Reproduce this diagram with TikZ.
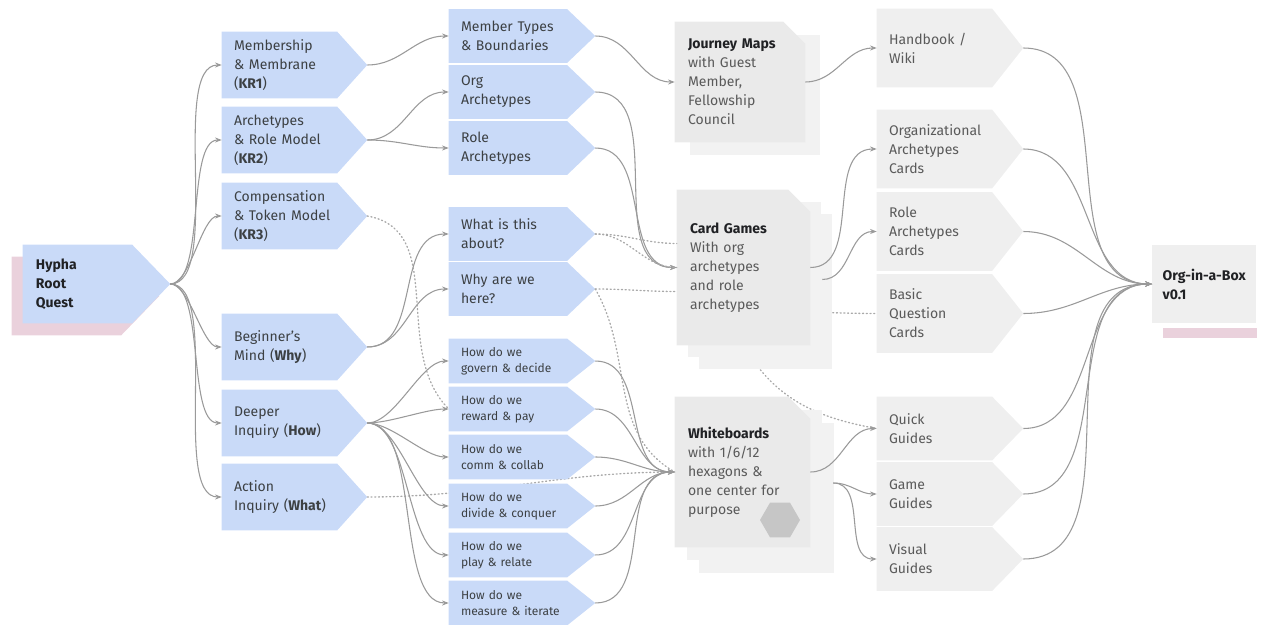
\documentclass[tikz,border=0pt]{standalone}
\usepackage{fontspec}
\setmainfont{Fira Sans}
\usepackage{tikz}
\usetikzlibrary{arrows.meta,positioning,shapes.geometric,calc,backgrounds}

\definecolor{hqBlue}{HTML}{C9DAF8}
\definecolor{hqGray}{HTML}{EFEFEF}
\definecolor{hqSheet}{HTML}{EAEAEA}
\definecolor{hqSheetB}{HTML}{F2F2F2}
\definecolor{hqPink}{HTML}{EAD1DC}
\definecolor{hqHex}{HTML}{C6C6C6}
\definecolor{hqLine}{HTML}{9A9A9A}
\definecolor{hqText}{HTML}{3C4043}
\definecolor{hqMute}{HTML}{5A5A5A}
\definecolor{hqDark}{HTML}{202124}

\tikzset{
    % chevron text boxes (the chevron itself is filled behind them)
    rootchev/.style={rectangle, inner xsep=9.75pt, inner ysep=0pt, minimum width=110.25pt, minimum height=58.5pt, text width=90.75pt, align=left, text=hqDark},
    keychev/.style={rectangle, inner xsep=9pt, inner ysep=0pt, minimum width=108.75pt, minimum height=49.5pt, text width=90.75pt, align=left, text=hqText},
    topicchev/.style={rectangle, inner xsep=9pt, inner ysep=0pt, minimum width=109.5pt, minimum height=39.75pt, text width=91.5pt, align=left, text=hqText},
    askchev/.style={topicchev, minimum height=33pt, font=\fontsize{9}{12}\selectfont},
    outchev/.style={rectangle, inner xsep=9pt, inner ysep=0pt, minimum width=109.5pt, minimum height=58.5pt, text width=91.5pt, align=left, text=hqMute},
    guidechev/.style={outchev, minimum height=47.25pt},
    % document stacks
    docbox/.style={rectangle, inner xsep=9.75pt, inner ysep=0pt, align=left, text=hqMute},
    outbox/.style={rectangle, fill=hqGray, inner xsep=7.5pt, minimum width=78pt, minimum height=58.5pt, align=left, text=hqDark},
    hexmark/.style={regular polygon, regular polygon sides=6, minimum size=30pt, inner sep=0pt, fill=hqHex},
    % connectors
    link/.style={-{Stealth[length=5pt,width=3.8pt]}, line width=0.8pt, draw=hqLine},
    dotlink/.style={line width=1pt, draw=hqLine!85, dash pattern=on 0.8pt off 2pt, line cap=round}
}

\newcommand{\chevfill}[3]{% node, pointer depth, colour
    \fill[#3] (#1.north west) -- ($(#1.north east)+(-#2,0)$) -- (#1.east)
        -- ($(#1.south east)+(-#2,0)$) -- (#1.south west) -- cycle;}
\newcommand{\docstack}[4]{% node, sheets behind, dx, dy
    \foreach \k in {#2,...,1}{
        \fill[hqSheetB] ($(#1.north west)+(\k*#3,\k*#4)$) rectangle ($(#1.south east)+(\k*#3,\k*#4)$);}
    \fill[hqSheet] (#1.north west) -- ($(#1.north east)+(-22,0)$) -- ($(#1.north east)+(0,22)$)
        -- (#1.south east) -- (#1.south west) -- cycle;}

\begin{document}
\begin{tikzpicture}[x=0.75pt, y=-0.75pt, font=\fontsize{10.5}{14.25}\selectfont]
    \useasboundingbox (0,0) rectangle (1262,624);

    % Root quest
    \node[rootchev] (root) at (96.5,284) {\textbf{Hypha}\\\textbf{Root}\\\textbf{Quest}};

    % Key results and inquiries
    \node[keychev] (kr1) at (294.5,65) {Membership\\\& Membrane\\(\textbf{KR1})};
    \node[keychev] (kr2) at (294.5,140) {Archetypes\\\& Role Model\\(\textbf{KR2})};
    \node[keychev] (kr3) at (294.5,216) {Compensation\\\& Token Model\\(\textbf{KR3})};
    \node[keychev] (why) at (294.5,347) {Beginner's\\Mind (\textbf{Why})};
    \node[keychev] (how) at (294.5,423) {Deeper\\Inquiry (\textbf{How})};
    \node[keychev] (what) at (294.5,497) {Action\\Inquiry (\textbf{What})};

    % Topics
    \node[topicchev] (types) at (522,36) {Member Types\\\& Boundaries};
    \node[topicchev] (orgarch) at (522,92) {Org\\Archetypes};
    \node[topicchev] (rolearch) at (522,148) {Role\\Archetypes};
    \node[topicchev] (about) at (522,234) {What is this\\about?};
    \node[topicchev] (here) at (522,289) {Why are we\\here?};
    \node[askchev] (govern) at (522,361) {How do we\\govern \& decide};
    \node[askchev] (reward) at (522,409) {How do we\\reward \& pay};
    \node[askchev] (comm) at (522,457) {How do we\\comm \& collab};
    \node[askchev] (divide) at (522,506) {How do we\\divide \& conquer};
    \node[askchev] (play) at (522,555) {How do we\\play \& relate};
    \node[askchev] (measure) at (522,603) {How do we\\measure \& iterate};

    % Tools
    \node[docbox, minimum width=97.5pt, minimum height=90pt, text width=78pt] (journey) at (740,82)
        {\textcolor{hqDark}{\textbf{Journey Maps}}\\with Guest\\Member,\\Fellowship\\Council};
    \node[docbox, minimum width=99.75pt, minimum height=116.25pt, text width=80.25pt] (cards) at (743.5,267.5)
        {\textcolor{hqDark}{\textbf{Card Games}}\\With org\\archetypes\\and role\\archetypes};
    \node[docbox, minimum width=101.25pt, minimum height=112.5pt, text width=81.75pt] (boards) at (742.5,472)
        {\textcolor{hqDark}{\textbf{Whiteboards}}\\with 1/6/12\\hexagons \&\\one center for\\purpose};
    \node[hexmark] (hexa) at (780,520) {};

    % Outputs
    \node[outchev] (handbook) at (950,48) {Handbook /\\Wiki};
    \node[outchev] (orgcards) at (950,149) {Organizational\\Archetypes\\Cards};
    \node[outchev] (rolecards) at (950,231.5) {Role\\Archetypes\\Cards};
    \node[outchev] (questcards) at (950,313.5) {Basic\\Question\\Cards};
    \node[guidechev] (quick) at (950,428.5) {Quick\\Guides};
    \node[guidechev] (gameg) at (950,494) {Game\\Guides};
    \node[guidechev] (visual) at (950,559) {Visual\\Guides};

    \node[outbox, anchor=west] (orgbox) at (1152,284) {\textbf{Org-in-a-Box}\\\textbf{v0.1}};

    \coordinate (cardsout) at ($(cards.east)+(12,12)$);
    \coordinate (boardsout) at ($(boards.east)+(23,11)$);

    \begin{scope}[on background layer]
        % dotted links that run behind the boxes
        \draw[dotlink] (what.east) to[out=0,in=180] (boards.west);
        \draw[dotlink] ($(cards.east)+(0,45)$) to[out=0,in=180] (questcards.west);
        \draw[dotlink] (cards.south) to[out=-60,in=170] (quick.west);

        % shadows
        \fill[hqPink] ($(root.north west)+(-11,12)$) -- ($(root.north east)+(-49,12)$) -- ($(root.east)+(-11,12)$)
            -- ($(root.south east)+(-49,12)$) -- ($(root.south west)+(-11,12)$) -- cycle;
        \fill[hqPink] ($(orgbox.south west)+(11,5)$) rectangle ($(orgbox.south east)+(0,15)$);

        % chevrons
        \chevfill{root}{38}{hqBlue}
        \foreach \n in {kr1,kr2,kr3,why,how,what}{\chevfill{\n}{30}{hqBlue}}
        \foreach \n in {types,orgarch,rolearch,about,here,govern,reward,comm,divide,play,measure}{\chevfill{\n}{28}{hqBlue}}
        \foreach \n in {handbook,orgcards,rolecards,questcards,quick,gameg,visual}{\chevfill{\n}{31}{hqGray}}

        % document stacks
        \docstack{journey}{1}{15}{13}
        \docstack{cards}{2}{11}{12}
        \docstack{boards}{2}{12}{13}
    \end{scope}

    % Root to key results
    \draw[link] (root.east) to[out=0,in=180,looseness=0.6] (kr1.west);
    \draw[link] (root.east) to[out=0,in=180,looseness=0.6] (kr2.west);
    \draw[link] (root.east) to[out=0,in=180,looseness=0.6] (kr3.west);
    \draw[link] (root.east) to[out=0,in=180,looseness=0.6] (why.west);
    \draw[link] (root.east) to[out=0,in=180,looseness=0.6] (how.west);
    \draw[link] (root.east) to[out=0,in=180,looseness=0.6] (what.west);

    % Key results to topics
    \draw[link] (kr1.east) to[out=0,in=180] (types.west);
    \draw[link] (kr2.east) to[out=0,in=180] (orgarch.west);
    \draw[link] (kr2.east) to[out=0,in=180] (rolearch.west);
    \draw[link] (why.east) to[out=0,in=180] (about.west);
    \draw[link] (why.east) to[out=0,in=180] (here.west);
    \draw[link] (how.east) to[out=0,in=180,looseness=0.7] (govern.west);
    \draw[link] (how.east) to[out=0,in=180,looseness=0.7] (reward.west);
    \draw[link] (how.east) to[out=0,in=180,looseness=0.7] (comm.west);
    \draw[link] (how.east) to[out=0,in=180,looseness=0.7] (divide.west);
    \draw[link] (how.east) to[out=0,in=180,looseness=0.7] (play.west);
    \draw[link] (how.east) to[out=0,in=180,looseness=0.7] (measure.west);
    \draw[dotlink] (kr3.east) to[out=-10,in=135] (reward.west);

    % Topics to tools
    \draw[link] (types.east) to[out=0,in=180] (journey.west);
    \draw[link] (orgarch.east) to[out=0,in=180] (cards.west);
    \draw[link] (rolearch.east) to[out=0,in=180] (cards.west);
    \draw[link] (govern.east) to[out=0,in=180] (boards.west);
    \draw[link] (reward.east) to[out=0,in=180] (boards.west);
    \draw[link] (comm.east) to[out=0,in=180] (boards.west);
    \draw[link] (divide.east) to[out=0,in=180] (boards.west);
    \draw[link] (play.east) to[out=0,in=180] (boards.west);
    \draw[link] (measure.east) to[out=0,in=180] (boards.west);
    \draw[dotlink] (about.east) to[out=0,in=180] ($(cards.west)+(0,-24)$);
    \draw[dotlink] (about.east) to[out=0,in=180] (cards.west);
    \draw[dotlink] (here.east) to[out=0,in=180] ($(cards.west)+(0,24)$);
    \draw[dotlink] (here.east) to[out=-60,in=150] (boards.west);

    % Tools to outputs
    \draw[link] (journey.east) to[out=0,in=180] (handbook.west);
    \draw[link] (cards.east) to[out=0,in=180] (orgcards.west);
    \draw[link] (cardsout) to[out=0,in=180] (rolecards.west);
    \draw[link] (boards.east) to[out=0,in=180] (quick.west);
    \draw[link] (boardsout) to[out=0,in=180] (gameg.west);
    \draw[link] (boardsout) to[out=0,in=180] (visual.west);

    % Outputs to the box
    \draw[link] (handbook.east) to[out=0,in=180] (orgbox.west);
    \draw[link] (orgcards.east) to[out=0,in=180] (orgbox.west);
    \draw[link] (rolecards.east) to[out=0,in=180] (orgbox.west);
    \draw[link] (questcards.east) to[out=0,in=180] (orgbox.west);
    \draw[link] (quick.east) to[out=0,in=180] (orgbox.west);
    \draw[link] (gameg.east) to[out=0,in=180] (orgbox.west);
    \draw[link] (visual.east) to[out=0,in=180] (orgbox.west);

\end{tikzpicture}
\end{document}
